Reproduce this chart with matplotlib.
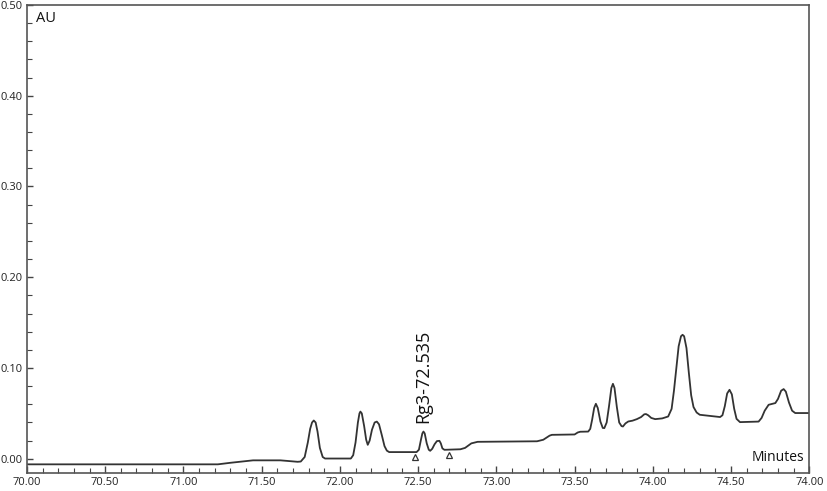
import numpy as np
import matplotlib
matplotlib.use("Agg")
import matplotlib.pyplot as plt
from matplotlib.ticker import MultipleLocator

# trace (minutes, AU)
t = [70.00, 71.22, 71.30, 71.445, 71.62, 71.73, 71.75, 71.775, 71.795, 71.81, 71.822,
     71.833, 71.845, 71.857, 71.872, 71.89, 71.905, 72.07, 72.085, 72.10, 72.115, 72.125,
     72.131, 72.14, 72.155, 72.168, 72.178, 72.19, 72.205, 72.222, 72.236, 72.25, 72.268,
     72.285, 72.30, 72.315, 72.49, 72.505, 72.518, 72.527, 72.534, 72.542, 72.555, 72.568,
     72.577, 72.59, 72.605, 72.62, 72.636, 72.645, 72.655, 72.668, 72.77, 72.80, 72.84,
     72.88, 73.26, 73.30, 73.34, 73.355, 73.50, 73.52, 73.536, 73.587, 73.60, 73.612,
     73.625, 73.636, 73.648, 73.665, 73.68, 73.69, 73.705, 73.72, 73.735, 73.745, 73.755,
     73.77, 73.785, 73.80, 73.809, 73.825, 73.843, 73.87, 73.898, 73.925, 73.945, 73.956,
     73.97, 73.99, 74.015, 74.06, 74.098, 74.12, 74.135, 74.15, 74.165, 74.18, 74.19,
     74.20, 74.215, 74.23, 74.245, 74.26, 74.28, 74.30, 74.43, 74.445, 74.46, 74.475,
     74.49, 74.505, 74.52, 74.535, 74.557, 74.676, 74.695, 74.715, 74.74, 74.783, 74.80,
     74.82, 74.836, 74.85, 74.87, 74.89, 74.91, 75.00]
au = [-0.0061, -0.0061, -0.0044, -0.0017, -0.0017, -0.0033, -0.0030, 0.002, 0.018, 0.033,
      0.040, 0.0422, 0.040, 0.030, 0.012, 0.002, 0.0003, 0.0003, 0.004, 0.018, 0.040, 0.050,
      0.052, 0.050, 0.036, 0.021, 0.0154, 0.020, 0.032, 0.040, 0.041, 0.038, 0.026, 0.014,
      0.009, 0.0074, 0.0074, 0.010, 0.021, 0.028, 0.030, 0.028, 0.017, 0.010, 0.0088, 0.011,
      0.016, 0.0195, 0.0198, 0.017, 0.0115, 0.0099, 0.0105, 0.012, 0.017, 0.0187, 0.0193,
      0.021, 0.0255, 0.0264, 0.0268, 0.029, 0.0298, 0.0300, 0.033, 0.043, 0.056, 0.0606,
      0.056, 0.041, 0.034, 0.0338, 0.040, 0.058, 0.078, 0.0826, 0.078, 0.057, 0.040, 0.036,
      0.0356, 0.039, 0.0411, 0.042, 0.0437, 0.046, 0.0490, 0.0493, 0.048, 0.045, 0.0437,
      0.0445, 0.0466, 0.055, 0.075, 0.100, 0.124, 0.135, 0.1366, 0.135, 0.122, 0.095, 0.070,
      0.057, 0.051, 0.0485, 0.046, 0.048, 0.058, 0.072, 0.076, 0.071, 0.055, 0.044, 0.0404,
      0.041, 0.045, 0.053, 0.0595, 0.0614, 0.066, 0.075, 0.0768, 0.074, 0.062, 0.053, 0.0504,
      0.0504]

# integration marks
mark_t = [72.481, 72.698]
mark_au = [0.0025, 0.0044]

peak_label = "Rg3-72.535"
peak_t = 72.535
peak_au = 0.039

xticks = [70.0, 70.5, 71.0, 71.5, 72.0, 72.5, 73.0, 73.5, 74.0, 74.5, 75.0]
xlabels = ["70.00", "70.50", "71.00", "71.50", "72.00", "72.50", "73.00", "73.50",
           "74.00", "74.50", "74.00"]
yticks = [0.0, 0.1, 0.2, 0.3, 0.4, 0.5]
ylabels = ["0.00", "0.10", "0.20", "0.30", "0.40", "0.50"]

plt.rcParams['font.family'] = ['Open Sans', 'DejaVu Sans']

fig = plt.figure(figsize=(8.27, 4.91), dpi=100)
ax = fig.add_axes([0.0326, 0.036, 0.946, 0.954])

ax.plot(t, au, color="#333333", lw=1.3, solid_joinstyle="round")
ax.plot(mark_t, mark_au, linestyle="none", marker="^", markersize=4.5,
        markerfacecolor="white", markeredgecolor="#333333", markeredgewidth=0.9)
ax.text(peak_t, peak_au, peak_label, rotation=90, ha="center", va="bottom",
        fontsize=13, color="#111111")

ax.set_xlim(70.0, 75.0)
ax.set_ylim(-0.016, 0.50)
ax.set_xticks(xticks)
ax.set_xticklabels(xlabels)
ax.set_yticks(yticks)
ax.set_yticklabels(ylabels)
ax.xaxis.set_minor_locator(MultipleLocator(0.1))
ax.yaxis.set_minor_locator(MultipleLocator(0.02))

ax.tick_params(which="both", direction="in", colors="#444444", labelsize=8,
               labelcolor="#222222")
ax.tick_params(axis="x", which="major", length=5, width=1.0, pad=3)
ax.tick_params(axis="x", which="minor", length=3.5, width=0.8)
ax.tick_params(axis="y", which="major", length=4, width=1.0, pad=3)
ax.tick_params(axis="y", which="minor", length=3.5, width=0.8)

for s in ax.spines.values():
    s.set_color("#555555")
    s.set_linewidth(1.2)

ax.text(0.012, 0.988, "AU", transform=ax.transAxes, ha="left", va="top",
        fontsize=10.5, color="#111111")
ax.text(0.994, 0.018, "Minutes", transform=ax.transAxes, ha="right", va="bottom",
        fontsize=10, color="#111111")

fig.savefig("out.png", dpi=100)
